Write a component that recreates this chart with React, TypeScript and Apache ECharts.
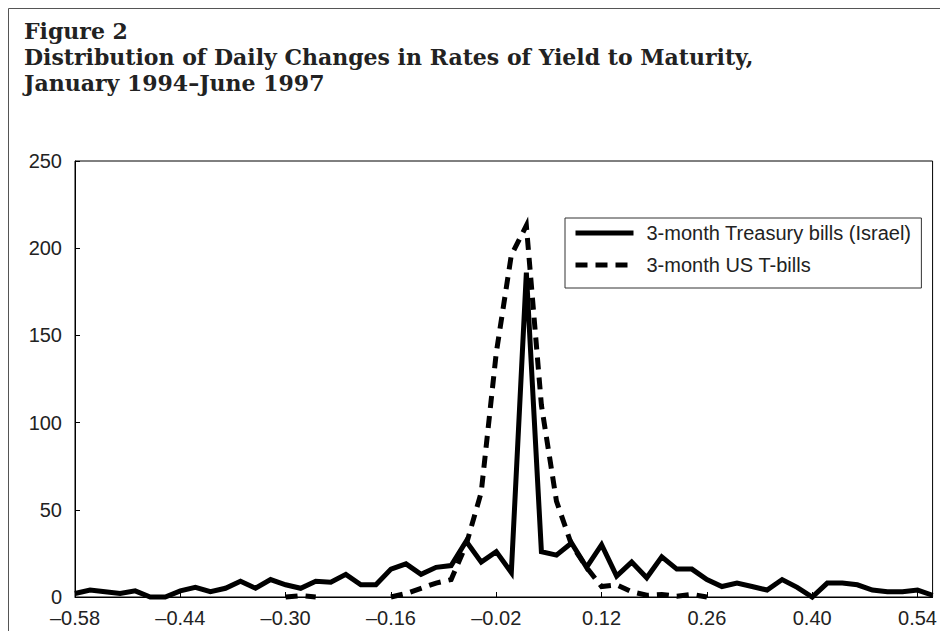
import React, { useEffect, useRef } from "react";
import * as echarts from "echarts";

// Daily change in yield (percentage points), bin centres
const categories: number[] = [
  -0.58, -0.56, -0.54, -0.52, -0.5, -0.48, -0.46, -0.44, -0.42, -0.4,
  -0.38, -0.36, -0.34, -0.32, -0.3, -0.28, -0.26, -0.24, -0.22, -0.2,
  -0.18, -0.16, -0.14, -0.12, -0.1, -0.08, -0.06, -0.04, -0.02, 0.0,
  0.02, 0.04, 0.06, 0.08, 0.1, 0.12, 0.14, 0.16, 0.18, 0.2,
  0.22, 0.24, 0.26, 0.28, 0.3, 0.32, 0.34, 0.36, 0.38, 0.4,
  0.42, 0.44, 0.46, 0.48, 0.5, 0.52, 0.54, 0.56,
];

// 3-month Treasury bills (Israel) – frequency
const israelBills: number[] = [
  2, 4, 3, 2, 3.5, 0, 0, 3.5, 5.5, 3,
  5, 9, 5, 10, 7, 5, 9, 8.5, 13, 7,
  7, 16, 19, 13, 17, 18, 32, 20, 26, 14,
  186, 26, 24, 31, 17, 30, 12, 20, 11, 23,
  16, 16, 10, 6, 8, 6, 4, 10, 5.5, 0,
  8, 8, 7, 4, 3, 3, 4, 1,
];

// 3-month US T-bills – frequency (null where not drawn)
const usBills: (number | null)[] = [
  null, null, null, null, null, null, null, null, null, null,
  null, null, null, null, 0, 0.8, 0, null, null, null,
  null, 0, 2, 5, 8, 10, 30, 60, 140, 196,
  213, 110, 55, 30, 17, 6, 7, 3, 1, 1.5,
  0.5, 1.5, 0, null, null, null, null, null, null, null,
  null, null, null, null, null, null, null, null,
];

const yMin = 0;
const yMax = 250;
const yStep = 50;

const titleLines = [
  "Figure 2",
  "Distribution of Daily Changes in Rates of Yield to Maturity,",
  "January 1994\u2013June 1997",
];

const seriesNames = ["3-month Treasury bills (Israel)", "3-month US T-bills"];

function fmt(v: number): string {
  const s = Math.abs(v).toFixed(2);
  return v < -1e-9 ? "\u2013" + s : s;
}

export default function App() {
  const ref = useRef<HTMLDivElement>(null);
  useEffect(() => {
    document.body.style.margin = "0";
    const chart = echarts.init(ref.current!, null, { renderer: "svg" });
    const labelFont = "Liberation Sans, Arial, sans-serif";
    chart.setOption({
      animation: false,
      backgroundColor: "#fff",
      title: {
        text: titleLines.join("\n"),
        left: 24,
        top: 18,
        padding: 0,
        textStyle: {
          fontFamily: "DejaVu Serif, serif",
          fontWeight: "bold",
          fontSize: 22,
          lineHeight: 26,
          color: "#222",
        },
      },
      graphic: [
        {
          type: "rect",
          shape: { x: 8.5, y: 8.5, width: 1000, height: 1000 },
          style: { fill: "none", stroke: "#555", lineWidth: 1 },
          silent: true,
        },
      ],
      legend: {
        orient: "vertical",
        left: 565,
        top: 218,
        padding: [5, 10, 13, 8],
        itemWidth: 58,
        itemHeight: 18,
        itemGap: 12,
        borderColor: "#333",
        borderWidth: 1,
        lineStyle: { width: 5 },
        itemStyle: { color: "rgba(0,0,0,0)", borderWidth: 0, opacity: 0 },
        textStyle: {
          fontFamily: labelFont,
          fontSize: 20,
          color: "#222",
          padding: [0, 0, 0, 8],
        },
        data: seriesNames,
      },
      grid: {
        left: 75,
        right: 7,
        top: 161,
        bottom: 34,
        show: true,
        borderColor: "#000",
        borderWidth: 1,
        backgroundColor: "transparent",
      },
      xAxis: {
        type: "category",
        data: categories.map(fmt),
        boundaryGap: false,
        axisLine: { lineStyle: { color: "#000", width: 1 } },
        axisTick: { inside: true, length: 5, interval: 6, lineStyle: { color: "#000" } },
        axisLabel: {
          interval: 6,
          fontSize: 20,
          color: "#222",
          fontFamily: labelFont,
          margin: 11,
        },
        splitLine: { show: false },
      },
      yAxis: {
        type: "value",
        min: yMin,
        max: yMax,
        interval: yStep,
        axisLine: { show: true, lineStyle: { color: "#000", width: 1 } },
        axisTick: { show: true, inside: true, length: 5, lineStyle: { color: "#000" } },
        axisLabel: {
          fontSize: 20,
          color: "#222",
          fontFamily: labelFont,
          margin: 13,
        },
        splitLine: { show: false },
      },
      series: [
        {
          name: seriesNames[0],
          type: "line",
          data: israelBills,
          symbol: "none",
          clip: false,
          lineStyle: { color: "#000", width: 5, type: "solid", join: "miter" },
          itemStyle: { color: "#000" },
          z: 3,
        },
        {
          name: seriesNames[1],
          type: "line",
          data: usBills,
          symbol: "none",
          clip: false,
          connectNulls: false,
          lineStyle: { color: "#000", width: 5, type: [12, 8], cap: "butt", join: "miter" },
          itemStyle: { color: "#000" },
          z: 4,
        },
      ],
    });
    return () => chart.dispose();
  }, []);
  return <div ref={ref} style={{ width: 940, height: 631 }} />;
}
